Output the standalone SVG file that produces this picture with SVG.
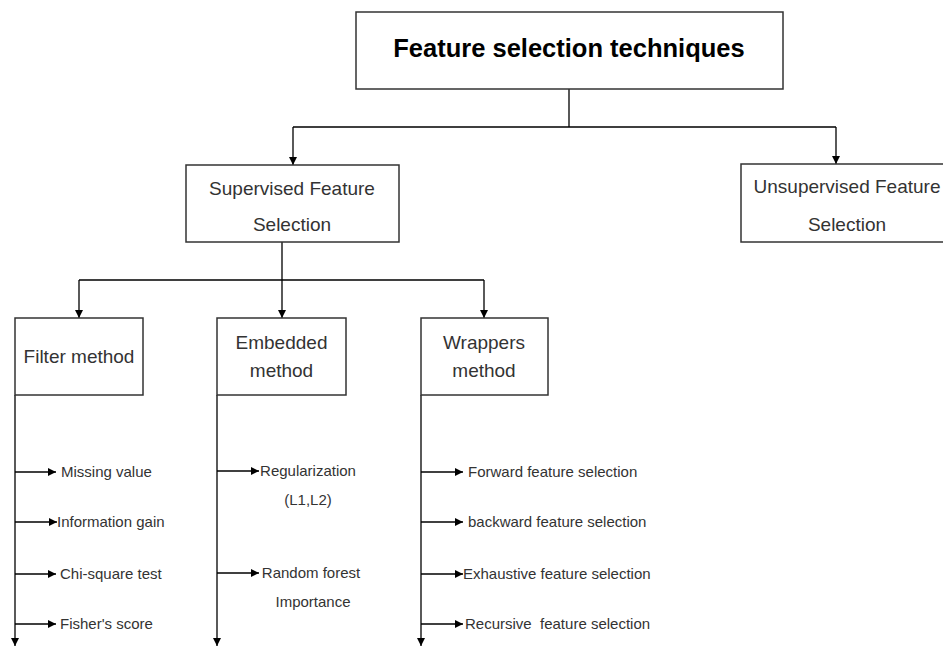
<svg xmlns="http://www.w3.org/2000/svg" width="943" height="646" viewBox="0 0 943 646">
<defs>
<marker id="ah" viewBox="0 0 10 10" refX="10" refY="5" markerWidth="8" markerHeight="8" markerUnits="userSpaceOnUse" orient="auto">
<path d="M0,0 L10,5 L0,10 z" fill="#000"/>
</marker>
</defs>
<style>
.box{fill:#fff;stroke:#333;stroke-width:1.5}
.t{font-family:"Liberation Sans",Arial,sans-serif;font-size:19px;fill:#333;text-anchor:middle}
.title{font-family:"Liberation Sans",Arial,sans-serif;font-size:25.5px;font-weight:bold;fill:#000;text-anchor:middle}
.s{font-family:"Liberation Sans",Arial,sans-serif;font-size:15px;fill:#333}
.sc{font-family:"Liberation Sans",Arial,sans-serif;font-size:15px;fill:#333;text-anchor:middle}
.c{fill:none;stroke:#000;stroke-width:1.3}
.ca{fill:none;stroke:#000;stroke-width:1.3;marker-end:url(#ah)}
</style>
<rect width="943" height="646" fill="#fff"/>
<g id="connectors">
<path class="c" d="M569,89 V127 M293,127 H836"/>
<path class="ca" d="M293,127 V165"/>
<path class="ca" d="M836,127 V164"/>
<path class="c" d="M282,242 V280 M79,280 H484"/>
<path class="ca" d="M79,280 V318"/>
<path class="ca" d="M282,280 V318"/>
<path class="ca" d="M484,280 V318"/>
<path class="ca" d="M15,395 V646"/>
<path class="ca" d="M217,395 V646"/>
<path class="ca" d="M421,395 V646"/>
<path class="ca" d="M15,472 H56"/>
<path class="ca" d="M15,522 H57"/>
<path class="ca" d="M15,574 H56"/>
<path class="ca" d="M15,624 H56"/>
<path class="ca" d="M217,471 H259"/>
<path class="ca" d="M217,573 H259"/>
<path class="ca" d="M421,472 H463"/>
<path class="ca" d="M421,522 H463"/>
<path class="ca" d="M421,574 H463"/>
<path class="ca" d="M421,624 H463"/>
</g>
<g id="root">
<rect class="box" x="356" y="12" width="427" height="77"/>
<text class="title" x="569" y="57">Feature selection techniques</text>
</g>
<g id="supervised">
<rect class="box" x="186" y="165" width="213" height="77"/>
<text class="t" x="292" y="195">Supervised Feature</text>
<text class="t" x="292" y="231">Selection</text>
</g>
<g id="unsupervised">
<rect class="box" x="741" y="164" width="213" height="78"/>
<text class="t" x="847" y="193">Unsupervised Feature</text>
<text class="t" x="847" y="231">Selection</text>
</g>
<g id="filter">
<rect class="box" x="15" y="318" width="128" height="77"/>
<text class="t" x="79" y="363">Filter method</text>
</g>
<g id="embedded">
<rect class="box" x="217" y="318" width="129" height="77"/>
<text class="t" x="281.5" y="349">Embedded</text>
<text class="t" x="281.5" y="377">method</text>
</g>
<g id="wrappers">
<rect class="box" x="421" y="318" width="127" height="77"/>
<text class="t" x="484" y="349">Wrappers</text>
<text class="t" x="484" y="377">method</text>
</g>
<g id="filter-items">
<text class="s" x="61" y="477">Missing value</text>
<text class="s" x="57" y="527">Information gain</text>
<text class="s" x="60" y="579">Chi-square test</text>
<text class="s" x="60" y="629">Fisher's score</text>
</g>
<g id="embedded-items">
<text class="sc" x="308" y="476">Regularization</text>
<text class="sc" x="308" y="505">(L1,L2)</text>
<text class="sc" x="311" y="578">Random forest</text>
<text class="sc" x="313" y="607">Importance</text>
</g>
<g id="wrapper-items">
<text class="s" x="468" y="477">Forward feature selection</text>
<text class="s" x="468" y="527">backward feature selection</text>
<text class="s" x="463" y="579">Exhaustive feature selection</text>
<text class="s" x="465" y="629" xml:space="preserve">Recursive  feature selection</text>
</g>
</svg>
